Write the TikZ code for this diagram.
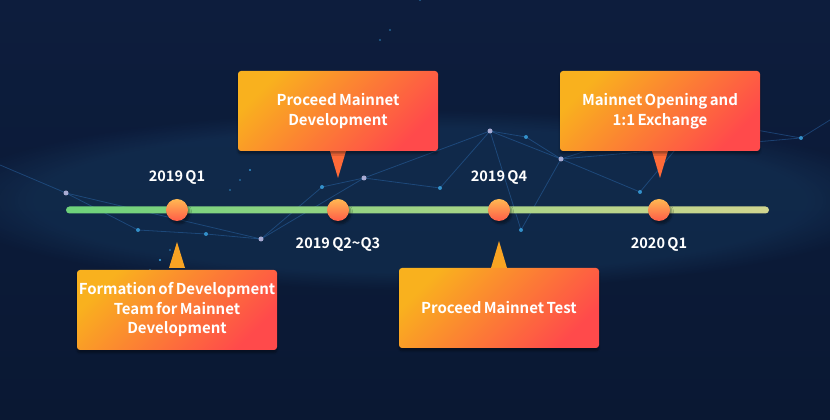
\documentclass[tikz,border=0pt]{standalone}
\usepackage{fontspec}
\newfontfamily\tlfont{Noto Sans CJK SC}[BoldFont={Noto Sans CJK SC Bold}, WordSpace=0.7]
\usetikzlibrary{shadows.blur,fadings}

\definecolor{bgtop}{HTML}{0D1D3D}
\definecolor{bgmid}{HTML}{13335C}
\definecolor{bgbot}{HTML}{0A1833}
\definecolor{boxA}{HTML}{F9B11E}
\definecolor{boxB}{HTML}{FF4A4B}
\definecolor{tipUp}{HTML}{FF6A38}
\definecolor{tipDown}{HTML}{F9A423}
\definecolor{lineA}{HTML}{6DD27B}
\definecolor{lineB}{HTML}{D0D58F}
\definecolor{dotA}{HTML}{FFB852}
\definecolor{dotB}{HTML}{FF5C48}
\definecolor{net}{HTML}{2E6FB5}
\definecolor{glow}{HTML}{3BA7E6}

\tikzset{
  milestone/.style={rectangle, rounded corners=3pt, minimum width=200pt,
    minimum height=80pt, inner sep=0pt, align=center, text=white,
    top color=boxA, bottom color=boxB, shading angle=45,
    font=\tlfont\bfseries\fontsize{15}{19.5}\selectfont,
    blur shadow={shadow blur steps=6, shadow xshift=0pt, shadow yshift=-3pt,
      shadow opacity=35}},
  datelabel/.style={text=white, inner sep=0pt,
    font=\tlfont\bfseries\fontsize{14.5}{18}\selectfont},
  dot/.style={circle, minimum size=22pt, inner sep=0pt,
    top color=dotA, bottom color=dotB,
    blur shadow={shadow blur steps=5, shadow xshift=2pt, shadow yshift=-3pt,
      shadow opacity=40}},
  netline/.style={net, line width=0.8pt, opacity=0.45},
  netnode/.style={fill=glow, circle, inner sep=0pt, minimum size=4pt, opacity=0.8},
  hubnode/.style={fill=gray!60!blue!40, circle, inner sep=0pt, minimum size=5pt, opacity=0.9},
}

\begin{document}
\begin{tikzpicture}[x=1pt,y=1pt]
  % backdrop
  \shade[top color=bgtop, middle color=bgmid, bottom color=bgbot]
    (0,0) rectangle (830,420);
  \useasboundingbox (0,0) rectangle (830,420);
  \fill[glow, opacity=0.10, path fading=circle with fuzzy edge 20 percent]
    (420,220) ellipse (480pt and 90pt);

  % faint constellation behind the timeline
  \coordinate (n6) at (0,255);
  \coordinate (n1) at (66,227);
  \coordinate (n8) at (138,190);
  \coordinate (n7) at (206,186);
  \coordinate (n2) at (261,181);
  \coordinate (n9) at (322,233);
  \coordinate (n3) at (364,242);
  \coordinate (n10) at (440,232);
  \coordinate (n4) at (490,289);
  \coordinate (n11) at (526,283);
  \coordinate (n5) at (561,261);
  \coordinate (n14) at (640,228);
  \coordinate (n15) at (521,190);
  \coordinate (n12) at (801,282);
  \coordinate (n13) at (830,300);
  \coordinate (n16) at (700,300);
  \coordinate (n17) at (620,280);
  \draw[netline] (n6) -- (n1) -- (n8) -- (n7) -- (n2) -- (n3) -- (n4) -- (n5) -- (n14);
  \draw[netline] (n1) -- (n2);
  \draw[netline] (n2) -- (n9) -- (n3);
  \draw[netline] (n3) -- (n10) -- (n4);
  \draw[netline] (n4) -- (n15);
  \draw[netline] (n5) -- (n15);
  \draw[netline] (n5) -- (n17) -- (n16) -- (n12) -- (n13);
  \draw[netline] (n4) -- (n11) -- (n5);
  \draw[netline] (n5) -- (n12);
  \draw[netline] (n14) -- (n16);
  \foreach \p in {n8,n7,n9,n10,n11,n14,n15,n12} \node[netnode] at (\p) {};
  \foreach \p in {n1,n2,n3,n4,n5} \node[hubnode] at (\p) {};
  \foreach \x/\y in {100,270, 160,310, 300,150, 420,300, 470,160, 600,320, 680,210,
                     740,330, 780,250, 810,240, 590,170, 380,210, 230,270, 720,390,
                     640,345, 250,330, 90,300, 700,160}
    \fill[glow, opacity=0.5] (\x,\y) circle (1.1pt);

  % timeline bar
  \shade[left color=lineA, right color=lineB, rounded corners=3.5pt]
    (66,206.5) rectangle (769,213.5);

  % milestone dots
  \node[dot] (d1) at (177,210) {};
  \node[dot] (d2) at (338,210) {};
  \node[dot] (d3) at (499,210) {};
  \node[dot] (d4) at (659,210) {};

  % dates
  \node[datelabel] (t1) at (177,243) {2019 Q1};
  \node[datelabel] (t2) at (338,176) {2019 Q2\textasciitilde Q3};
  \node[datelabel] (t3) at (499,243) {2019 Q4};
  \node[datelabel] (t4) at (659,176) {2020 Q1};

  % callout tips
  \coordinate (p1) at (177,178);
  \coordinate (p2) at (338,242);
  \coordinate (p3) at (499,179);
  \coordinate (p4) at (660,242);
  \fill[tipDown] (169,152) -- (p1) -- (185,152) -- cycle;
  \fill[tipUp] (330,269) -- (p2) -- (346,269) -- cycle;
  \fill[tipDown] (491,152) -- (p3) -- (507,152) -- cycle;
  \fill[tipUp] (652,269) -- (p4) -- (668,269) -- cycle;

  % callouts
  \node[milestone] (b1) at (177,110)
    {Formation of Development\\Team for Mainnet\\Development};
  \node[milestone] (b2) at (338,309) {Proceed Mainnet\\Development};
  \node[milestone] (b3) at (499,112) {Proceed Mainnet Test};
  \node[milestone] (b4) at (660,309) {Mainnet Opening and\\1:1 Exchange};
\end{tikzpicture}
\end{document}
